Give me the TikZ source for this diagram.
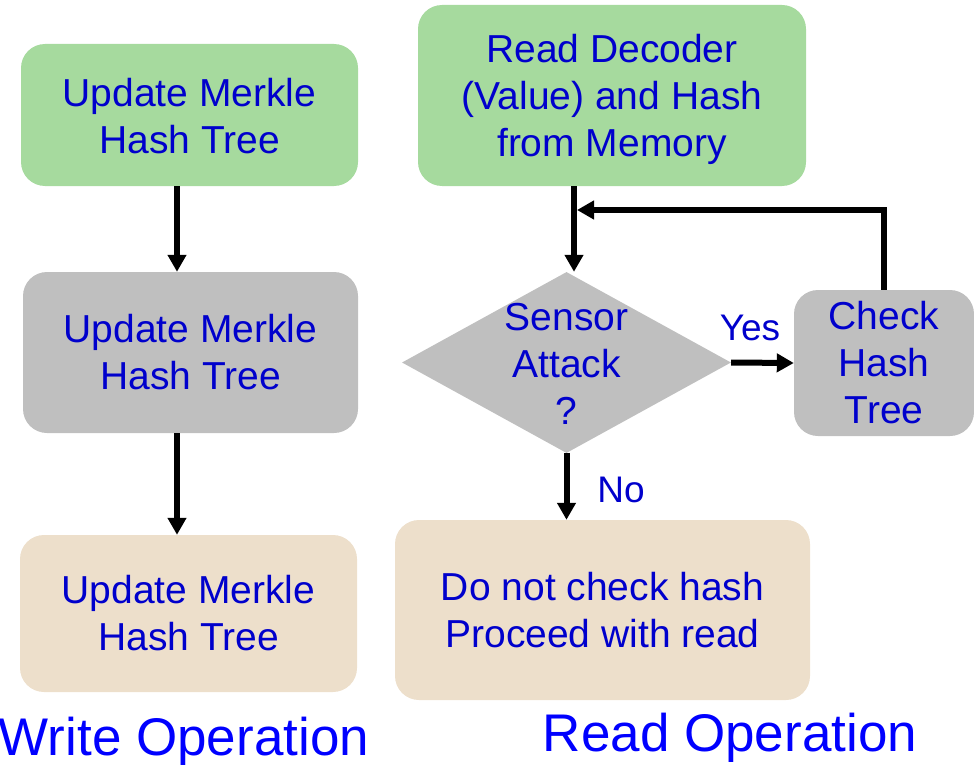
\documentclass[tikz,border=0pt]{standalone}
\usepackage{fontspec}
\setmainfont{Liberation Sans}
\usetikzlibrary{arrows.meta,shapes.geometric}
\definecolor{boxgreen}{RGB}{166,218,158}
\definecolor{boxgray}{RGB}{191,191,191}
\definecolor{boxbeige}{RGB}{237,223,203}
\definecolor{txtblue}{RGB}{0,0,204}
\definecolor{titleblue}{RGB}{0,0,255}
\tikzset{
  box/.style={rectangle, rounded corners=24pt, draw=none, inner sep=0pt,
    align=center, text=txtblue, font=\fontsize{39}{47}\selectfont},
  lbl/.style={text=txtblue, font=\fontsize{37}{44}\selectfont, inner sep=0pt},
  title/.style={text=titleblue, font=\fontsize{53}{60}\selectfont, inner sep=0pt},
  arr/.style={line width=6pt, draw=black, -{Triangle[length=17pt,width=18pt]}},
}
\begin{document}
\begin{tikzpicture}[x=1pt,y=-1pt]
\useasboundingbox (0,0) rectangle (974,765);
% left column
\node[box, fill=boxgreen, minimum width=337pt, minimum height=142pt] (b1) at (189.5,115) {};
\node[box, fill=none] (b1t) at (189.5,116.5) {Update Merkle\\Hash Tree};
\node[box, fill=boxgray, minimum width=335pt, minimum height=161pt] (b2) at (190.5,352.5) {Update Merkle\\Hash Tree};
\node[box, fill=boxbeige, minimum width=337pt, minimum height=157pt] (b3) at (188.5,613.5) {Update Merkle\\Hash Tree};
\node[title] (wt) at (184,742) {Write Operation};
% right column
\node[box, fill=boxgreen, minimum width=388pt, minimum height=181pt] (r1) at (612,95.5) {};
\node[box, fill=none] (r1t) at (612,99.5) {Read Decoder\\(Value) and Hash\\from Memory};
\node[diamond, fill=boxgray, draw=none, inner sep=0pt, minimum width=329pt, minimum height=181pt] (dia) at (566.5,362.5) {};
\node[box, fill=none, text=txtblue] (diat) at (566.5,364) {Sensor\\Attack\\?};
\node[box, fill=boxgray, minimum width=180pt, minimum height=146pt] (chk) at (884,363) {Check\\Hash\\Tree};
\node[box, fill=boxbeige, minimum width=415pt, minimum height=180pt] (r3) at (602.5,610) {Do not check hash\\Proceed with read};
\node[title] (rt) at (730,738) {Read Operation};
% helper coordinates
\coordinate (lx) at (177,0);
\coordinate (rx) at (574,0);
\coordinate (join) at (577,210);
% connectors
\draw[arr] (b1.south -| lx) -- (b2.north -| lx);
\draw[arr] (b2.south -| lx) -- (b3.north -| lx);
\draw[arr] (r1.south -| rx) -- (dia.north -| rx);
\draw[arr] (chk.north) |- (join);
\draw[arr] (dia.east) -- (chk.west);
\draw[arr] (dia.south) -- (r3.north -| dia.south);
\node[lbl] (yes) at (750,328) {Yes};
\node[lbl] (no) at (621,490) {No};
\end{tikzpicture}
\end{document}
